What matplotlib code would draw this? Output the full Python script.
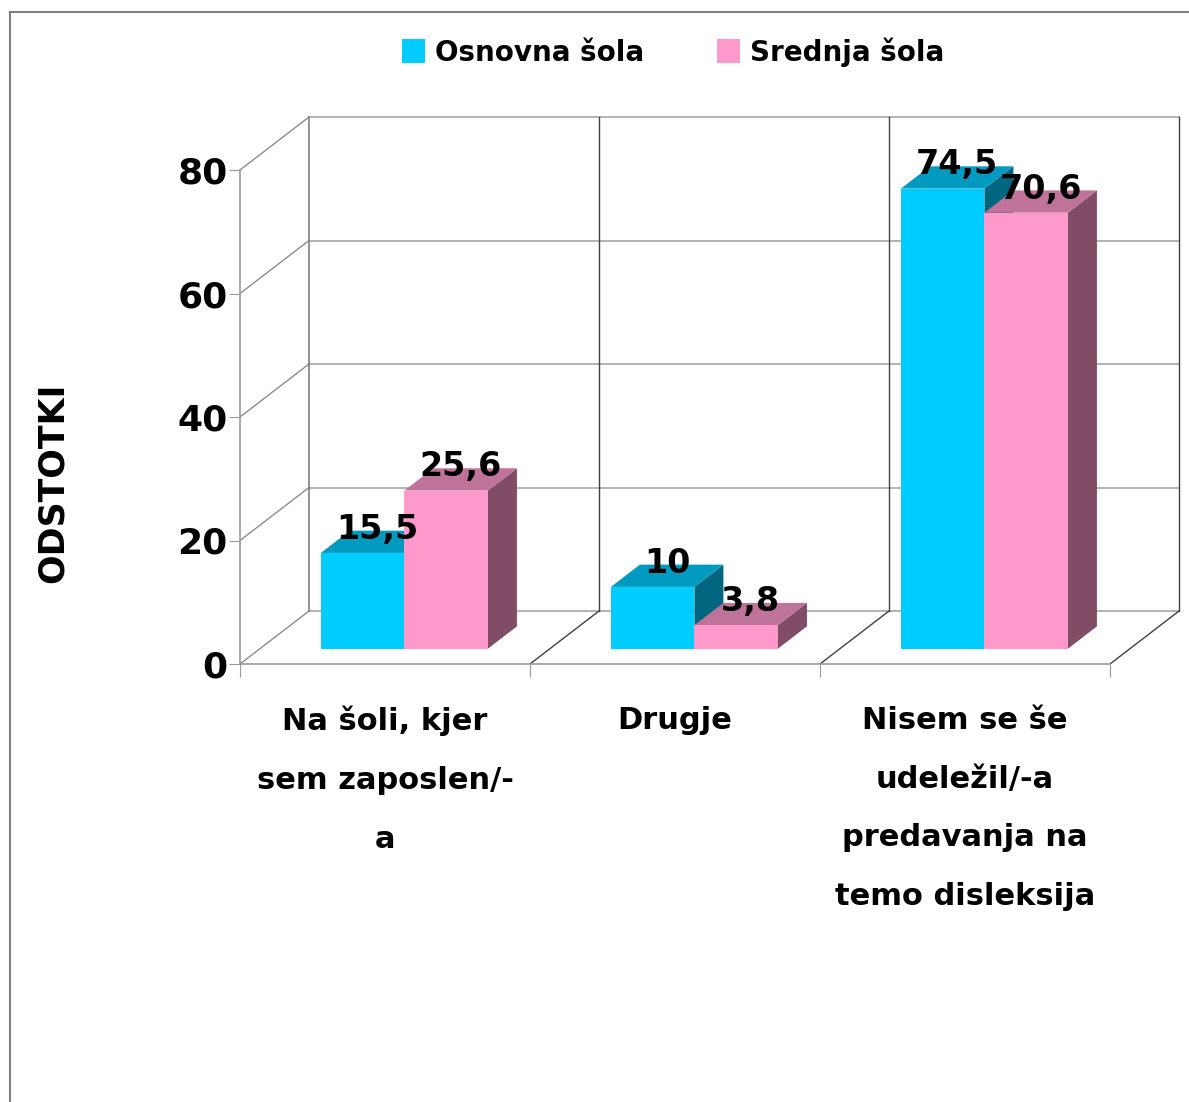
import matplotlib.pyplot as plt
from matplotlib.patches import Polygon
from matplotlib.lines import Line2D

categories = ['Na šoli, kjer\nsem zaposlen/-\na', 'Drugje',
              'Nisem se še\nudeležil/-a\npredavanja na\ntemo disleksija']
series_names = ['Osnovna šola', 'Srednja šola']
osnovna = [15.5, 10, 74.5]
srednja = [25.6, 3.8, 70.6]
value_labels = [['15,5', '10', '74,5'], ['25,6', '3,8', '70,6']]
yticks = [0, 20, 40, 60, 80]

front_colors = ['#00CCFF', '#FF99CC']
top_colors = ['#0099BF', '#BF7399']
side_colors = ['#00667F', '#804C66']

W, H = 1189, 1102
FONT = 'DejaVu Sans'

# oblique depth of the floor, in data units
DX = 69 / 290
DY = 53 / 6.175
Z0, Z1 = 0.29, 0.71      # bar depth range
BAR_W = 0.288
BAR_START = 0.21

fig = plt.figure(figsize=(W / 100, H / 100), dpi=100)
ax = fig.add_axes([240 / W, (H - 664) / H, (1185 - 240) / W, (664 - 100) / H])
ax.set_xlim(0, (1185 - 240) / 290)
ax.set_ylim(0, (664 - 100) / 6.175)
ax.patch.set_visible(False)

grid_c = '#a6a6a6'
dark_c = '#404040'

# back wall and side wall
for v in yticks:
    ax.plot([DX, 3 + DX], [v + DY, v + DY], color=grid_c, lw=1.2, zorder=1)
    ax.plot([0, DX], [v, v + DY], color='#8c8c8c', lw=1.0, zorder=1)
ax.plot([DX, DX], [DY, 80 + DY], color='#808080', lw=1.2, zorder=1)
for i in range(1, 4):
    ax.plot([i + DX, i + DX], [DY, 80 + DY], color=dark_c, lw=1.0, zorder=1)
    ax.plot([i, i + DX], [0, DY], color=dark_c, lw=1.0, zorder=1)

# bars
handles = []
for s, vals in enumerate([osnovna, srednja]):
    for i, v in enumerate(vals):
        x0 = i + BAR_START + s * BAR_W
        x1 = x0 + BAR_W
        side = [(x1 + Z0 * DX, Z0 * DY), (x1 + Z1 * DX, Z1 * DY),
                (x1 + Z1 * DX, Z1 * DY + v), (x1 + Z0 * DX, Z0 * DY + v)]
        top = [(x0 + Z0 * DX, Z0 * DY + v), (x1 + Z0 * DX, Z0 * DY + v),
               (x1 + Z1 * DX, Z1 * DY + v), (x0 + Z1 * DX, Z1 * DY + v)]
        z = 3 + i * 2 + s * 0.5
        ax.add_patch(Polygon(side, closed=True, fc=side_colors[s], ec='none', zorder=z))
        ax.add_patch(Polygon(top, closed=True, fc=top_colors[s], ec='none', zorder=z))
    b = ax.bar([i + BAR_START + s * BAR_W + Z0 * DX for i in range(3)], vals,
               width=BAR_W, bottom=Z0 * DY, align='edge', color=front_colors[s],
               label=series_names[s], zorder=3.2 + s * 0.5)
    for i, rect in enumerate(b):
        rect.set_zorder(3.2 + i * 2 + s * 0.5)
    handles.append(b)

# value labels
for s, vals in enumerate([osnovna, srednja]):
    for i, v in enumerate(vals):
        xc = i + BAR_START + s * BAR_W + BAR_W / 2 + 0.5 * (Z0 + Z1) * DX
        yc = 0.5 * (Z0 + Z1) * DY + v
        ax.annotate(value_labels[s][i], (xc, yc), xytext=(0, 9),
                    textcoords='offset points', ha='center', va='center',
                    fontsize=24, fontweight='bold', family=FONT, zorder=20)

# axes
for sp in ['top', 'right']:
    ax.spines[sp].set_visible(False)
ax.spines['left'].set_bounds(0, 80)
ax.spines['bottom'].set_bounds(0, 3)
ax.spines['left'].set_color('#999999')
ax.spines['bottom'].set_color('#999999')
ax.spines['left'].set_linewidth(1.2)
ax.spines['bottom'].set_linewidth(1.2)

ax.set_yticks(yticks)
ax.set_yticklabels([str(t) for t in yticks], fontsize=26, fontweight='bold', family=FONT)
ax.tick_params(axis='y', direction='out', length=8, color='#999999', pad=1)

ax.set_xticks([0, 1, 2, 3])
ax.set_xticklabels([])
ax.tick_params(axis='x', which='major', direction='out', length=9, color='#999999')
ax.set_xticks([0.5, 1.5, 2.5], minor=True)
ax.set_xticklabels(categories, minor=True, fontsize=22, fontweight='bold', family=FONT)
ax.tick_params(axis='x', which='minor', length=0, pad=30)
for lab in ax.get_xticklabels(minor=True):
    lab.set_linespacing(2.3)
    lab.set_multialignment('center')

fig.text(53 / W, 1 - 483 / H, 'ODSTOTKI', rotation=90, ha='center', va='center',
         fontsize=25, fontweight='bold', family=FONT)

fig.legend(handles=handles, labels=series_names, loc='center',
           bbox_to_anchor=(673 / W, 1 - 52 / H), ncol=2, frameon=False,
           prop={'family': FONT, 'weight': 'bold', 'size': 20},
           handlelength=0.85, handleheight=0.95, handletextpad=0.35, columnspacing=2.6)

# chart border
fig.add_artist(Line2D([10 / W, 1], [1 - 12 / H, 1 - 12 / H], color='#808080', lw=1.5))
fig.add_artist(Line2D([10 / W, 10 / W], [0, 1 - 12 / H], color='#808080', lw=1.5))

fig.savefig('out.png', dpi=100)
